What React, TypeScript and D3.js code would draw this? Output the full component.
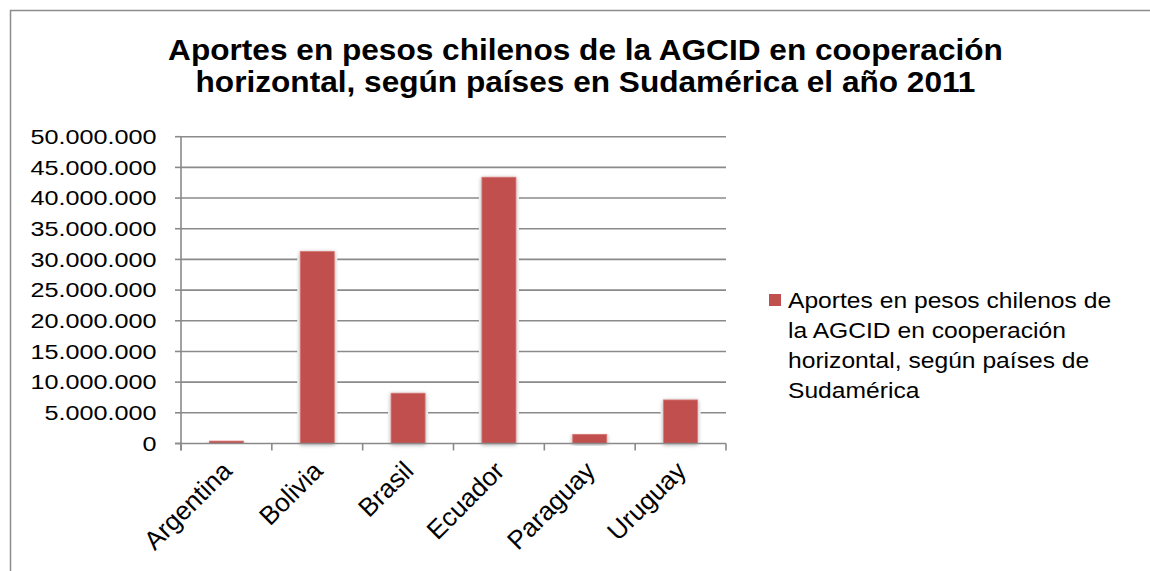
import React, { useEffect, useRef } from "react";
import * as d3 from "d3";

const categories = ["Argentina", "Bolivia", "Brasil", "Ecuador", "Paraguay", "Uruguay"];
const values = [400000, 31300000, 8200000, 43400000, 1500000, 7100000];
const yTicks = [0, 5000000, 10000000, 15000000, 20000000, 25000000, 30000000, 35000000, 40000000, 45000000, 50000000];
const titleLines = [
  "Aportes en pesos chilenos de la AGCID en cooperación",
  "horizontal, según países en Sudamérica el año 2011",
];
const legendLines = [
  "Aportes en pesos chilenos de",
  "la AGCID en cooperación",
  "horizontal, según países de",
  "Sudamérica",
];

const W = 1150;
const H = 571;
const FONT = "'Liberation Sans', Arial, Helvetica, sans-serif";
const BAR = "#C0504D";
const GRID = "#8a8a8a";

export default function App() {
  const ref = useRef<SVGSVGElement | null>(null);

  useEffect(() => {
    const svg = d3.select(ref.current);
    svg.selectAll("*").remove();

    const left = 181, right = 726, top = 136.7, bottom = 443.5;
    const x = d3.scaleBand<string>().domain(categories).range([left, right]).paddingInner(0.625).paddingOuter(0.3125);
    const xOuter = d3.scaleBand<string>().domain(categories).range([left, right]);
    const y = d3.scaleLinear().domain([0, 50000000]).range([bottom, top]);

    const defs = svg.append("defs");
    const f = defs.append("filter").attr("id", "sh").attr("x", "-30%").attr("y", "-10%").attr("width", "160%").attr("height", "130%");
    f.append("feGaussianBlur").attr("in", "SourceAlpha").attr("stdDeviation", 2.2).attr("result", "b");
    f.append("feOffset").attr("in", "b").attr("dx", 0).attr("dy", 1).attr("result", "o");
    f.append("feComponentTransfer").attr("in", "o").attr("result", "s")
      .append("feFuncA").attr("type", "linear").attr("slope", 0.35);
    const m = f.append("feMerge");
    m.append("feMergeNode").attr("in", "s");
    m.append("feMergeNode").attr("in", "SourceGraphic");

    // outer border
    svg.append("path").attr("d", `M10.5,${H} V10.5 H${W}`).attr("fill", "none").attr("stroke", "#8c8c8c").attr("stroke-width", 1.5);

    // title
    const tg = svg.append("g").attr("transform", `translate(585.5,0) scale(1.09,1)`);
    titleLines.forEach((t, i) => {
      tg.append("text").attr("x", 0).attr("y", 60 + i * 32).attr("text-anchor", "middle")
        .attr("font-family", FONT).attr("font-weight", "bold").attr("font-size", 29).attr("fill", "#000").text(t);
    });

    // gridlines
    svg.append("g").selectAll("line").data(yTicks.filter((d) => d > 0)).join("line")
      .attr("x1", left).attr("x2", right).attr("y1", (d) => y(d)).attr("y2", (d) => y(d))
      .attr("stroke", GRID).attr("stroke-width", 1.6);

    // bars: white halo then bar
    const bars = svg.append("g");
    bars.selectAll("rect.halo").data(values).join("rect").attr("class", "halo")
      .attr("x", (_, i) => x(categories[i])! - 3).attr("width", x.bandwidth() + 6)
      .attr("y", (d) => y(d) - 2).attr("height", (d) => bottom - y(d) + 2)
      .attr("fill", "#fff");
    bars.selectAll("rect.bar").data(values).join("rect").attr("class", "bar")
      .attr("x", (_, i) => x(categories[i])!).attr("width", x.bandwidth())
      .attr("y", (d) => y(d)).attr("height", (d) => bottom - y(d))
      .attr("fill", BAR).attr("stroke", "#d77a78").attr("stroke-width", 0.8).attr("filter", "url(#sh)");

    // axes
    const ax = svg.append("g");
    ax.append("line").attr("x1", left).attr("x2", left).attr("y1", top).attr("y2", bottom + 7).attr("stroke", GRID).attr("stroke-width", 1.6);
    ax.append("line").attr("x1", left - 6).attr("x2", right).attr("y1", bottom).attr("y2", bottom).attr("stroke", GRID).attr("stroke-width", 1.6);
    ax.selectAll("line.yt").data(yTicks).join("line").attr("class", "yt")
      .attr("x1", left - 6).attr("x2", left).attr("y1", (d) => y(d)).attr("y2", (d) => y(d))
      .attr("stroke", GRID).attr("stroke-width", 1.6);
    const bounds = categories.map((c) => xOuter(c)!).concat([right]);
    ax.selectAll("line.xt").data(bounds).join("line").attr("class", "xt")
      .attr("x1", (d) => d).attr("x2", (d) => d).attr("y1", bottom).attr("y2", bottom + 7)
      .attr("stroke", GRID).attr("stroke-width", 1.6);

    const fmt = (v: number) => d3.format(",")(v).replace(/,/g, ".");
    ax.selectAll("text.yl").data(yTicks).join("text").attr("class", "yl")
      .attr("transform", (d) => `translate(156.5,${y(d)}) scale(1.2,1)`)
      .attr("dy", "0.35em").attr("text-anchor", "end")
      .attr("font-family", FONT).attr("font-size", 21).attr("fill", "#000").text((d) => fmt(d));

    ax.selectAll("text.xl").data(categories).join("text").attr("class", "xl")
      .attr("transform", (d) => `translate(${xOuter(d)! + xOuter.bandwidth() / 2 + 7},${bottom + 29}) rotate(-45)`)
      .attr("text-anchor", "end")
      .attr("font-family", FONT).attr("font-size", 26).attr("fill", "#000").text((d) => d);

    // legend
    const lg = svg.append("g");
    lg.append("rect").attr("x", 769).attr("y", 294).attr("width", 12).attr("height", 12).attr("fill", BAR);
    const ltg = lg.append("g").attr("transform", `translate(788,0) scale(1.12,1)`);
    legendLines.forEach((t, i) => {
      ltg.append("text").attr("x", 0).attr("y", 308.3 + i * 30).attr("font-family", FONT).attr("font-size", 22).attr("fill", "#000").text(t);
    });
  }, []);

  return (
    <svg ref={ref} width={W} height={H} style={{ position: "absolute", left: 0, top: 0, background: "#fff" }} />
  );
}
